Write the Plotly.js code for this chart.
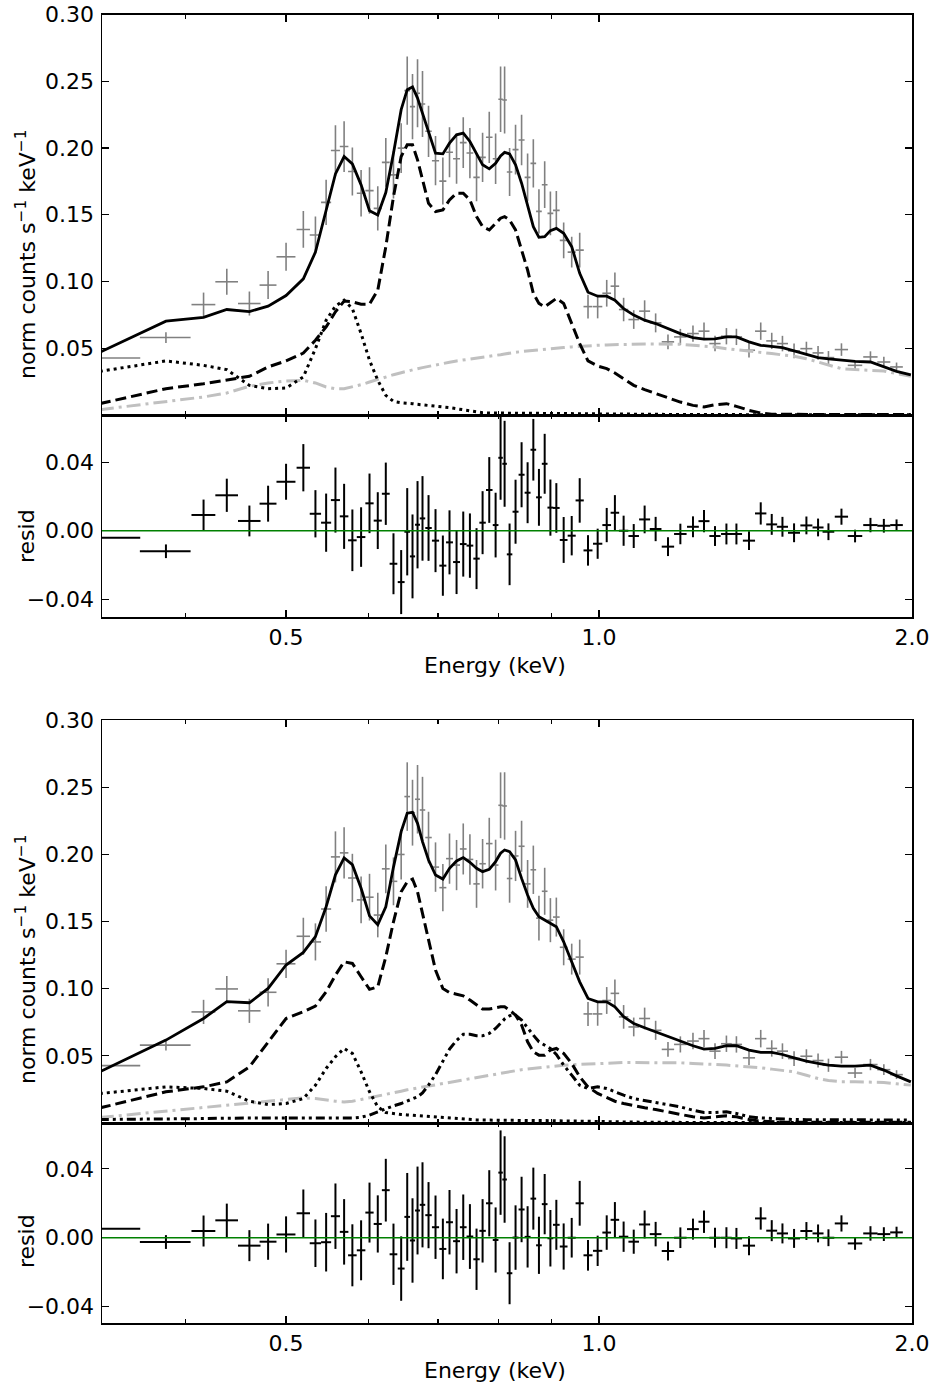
<!DOCTYPE html>
<html>
<head>
<meta charset="utf-8">
<script src="https://cdn.plot.ly/plotly-3.0.1.min.js"></script>
<style>html,body{margin:0;padding:0;background:#fff;}#chart{width:932px;height:1389px;}</style>
</head>
<body>
<div id="chart"></div>
<script>
// ---- Data ----
const energy = [
0.331, 0.3832, 0.4165, 0.4385, 0.461, 0.4805, 0.500, 0.5195, 0.5336, 0.5464,
0.5578, 0.5686, 0.5791, 0.5904, 0.6015, 0.6126, 0.6236, 0.6343, 0.6452, 0.6539,
0.6616, 0.6690, 0.6764, 0.6855, 0.6962, 0.7076, 0.7181, 0.7294, 0.7403, 0.7513,
0.7624, 0.7727, 0.7842, 0.7953, 0.8041, 0.8113, 0.8203, 0.8312, 0.8424, 0.8537,
0.8646, 0.8754, 0.8866, 0.8979, 0.9098, 0.9247, 0.9413, 0.9581, 0.9759, 0.9970,
1.0172, 1.0358, 1.0560, 1.0799, 1.1063, 1.1336, 1.1650, 1.1974, 1.2313, 1.2618,
1.2929, 1.3260, 1.3557, 1.3940, 1.4307, 1.4660, 1.5012, 1.5403, 1.5830, 1.6244,
1.6622, 1.7108, 1.7631, 1.8243, 1.8792, 1.9328, 1.995];

const energyErr = [
0.031, 0.0215, 0.011, 0.011, 0.0115, 0.009, 0.0105, 0.0077, 0.0067, 0.0061,
0.0056, 0.0054, 0.0055, 0.0056, 0.0055, 0.0055, 0.0054, 0.0054, 0.0049, 0.0041,
0.0038, 0.0037, 0.0041, 0.0049, 0.0055, 0.0055, 0.0055, 0.0056, 0.0055, 0.0056,
0.0054, 0.0055, 0.0057, 0.005, 0.004, 0.0041, 0.005, 0.0055, 0.0056, 0.0056,
0.0054, 0.0055, 0.0056, 0.0058, 0.0067, 0.0079, 0.0084, 0.0087, 0.0097, 0.0103,
0.0098, 0.0098, 0.011, 0.0126, 0.0135, 0.0147, 0.016, 0.0166, 0.0161, 0.0154,
0.0161, 0.0157, 0.017, 0.0188, 0.018, 0.0177, 0.0186, 0.0205, 0.0211, 0.0198,
0.0216, 0.0252, 0.0283, 0.029, 0.0271, 0.0271, 0.03];

const rate = [
0.0427, 0.058, 0.0827, 0.0998, 0.0835, 0.0973, 0.1185, 0.139, 0.1348, 0.1593,
0.1981, 0.2011, 0.1824, 0.1661, 0.1681, 0.1548, 0.1892, 0.1799, 0.1999, 0.243,
0.231, 0.241, 0.233, 0.2125, 0.1905, 0.1752, 0.1968, 0.192, 0.204, 0.1962,
0.178, 0.193, 0.208, 0.192, 0.2365, 0.236, 0.182, 0.1988, 0.206, 0.178,
0.1885, 0.1525, 0.1725, 0.151, 0.1533, 0.1308, 0.122, 0.1235, 0.0812, 0.0812,
0.0912, 0.0965, 0.079, 0.0715, 0.0778, 0.069, 0.0548, 0.0585, 0.061, 0.0628,
0.0535, 0.059, 0.0585, 0.0485, 0.0628, 0.0555, 0.0535, 0.048, 0.0497, 0.0465,
0.043, 0.049, 0.0372, 0.0435, 0.0397, 0.036, null];

const rateErr = [
0.002, 0.004, 0.009, 0.0097, 0.009, 0.0105, 0.0105, 0.0138, 0.0138, 0.017,
0.019, 0.019, 0.018, 0.0174, 0.0174, 0.0166, 0.0182, 0.0178, 0.0187, 0.0255,
0.0245, 0.0255, 0.0247, 0.0192, 0.0184, 0.0176, 0.0187, 0.0187, 0.019, 0.0188,
0.0178, 0.0184, 0.0192, 0.0189, 0.0245, 0.0251, 0.018, 0.0187, 0.019, 0.0178,
0.018, 0.0166, 0.0175, 0.0164, 0.0145, 0.0134, 0.0115, 0.013, 0.0089, 0.0088,
0.010, 0.0103, 0.0088, 0.007, 0.0081, 0.0071, 0.0055, 0.006, 0.0061, 0.0065,
0.0058, 0.0061, 0.0061, 0.0055, 0.0065, 0.0061, 0.0058, 0.0055, 0.0052, 0.0052,
0.0049, 0.0047, 0.0037, 0.0042, 0.004, 0.0033, null];

// Model A (upper figure)
const modelA_total = [
0.047, 0.0703, 0.0732, 0.079, 0.0775, 0.0815, 0.0895, 0.102, 0.122, 0.153,
0.1806, 0.1936, 0.1881, 0.1724, 0.153, 0.1498, 0.1666, 0.196, 0.2287, 0.2437,
0.2457, 0.2374, 0.2262, 0.2112, 0.1961, 0.1956, 0.2036, 0.2099, 0.2112, 0.2049,
0.1961, 0.1874, 0.1844, 0.1886, 0.1941, 0.1967, 0.1956, 0.1874, 0.1736, 0.1561,
0.1411, 0.1331, 0.1336, 0.1381, 0.1398, 0.1361, 0.1261, 0.1061, 0.092, 0.089,
0.089, 0.086, 0.0797, 0.0748, 0.071, 0.0685, 0.0648, 0.061, 0.058, 0.0568,
0.057, 0.0585, 0.0585, 0.0548, 0.0522, 0.0515, 0.0505, 0.048, 0.0452, 0.043,
0.042, 0.041, 0.0402, 0.0397, 0.036, 0.0327, 0.030];

const modelA_dashed = [
0.0085, 0.0197, 0.0234, 0.0264, 0.029, 0.036, 0.0405, 0.0464, 0.056, 0.066,
0.0773, 0.0853, 0.0848, 0.083, 0.083, 0.0935, 0.126, 0.1636, 0.1936, 0.2024,
0.2024, 0.1911, 0.1761, 0.1586, 0.1524, 0.1536, 0.1611, 0.1661, 0.1661, 0.1611,
0.1486, 0.1411, 0.1386, 0.1436, 0.1474, 0.1486, 0.1461, 0.1386, 0.1236, 0.1086,
0.0911, 0.0836, 0.081, 0.084, 0.0873, 0.0836, 0.069, 0.0535, 0.0405, 0.0367,
0.0347, 0.0315, 0.0272, 0.0222, 0.019, 0.016, 0.013, 0.0097, 0.0072, 0.006,
0.0077, 0.0085, 0.0065, 0.0035, 0.0015, 0.0006, 0.0005, 0.0005, 0.0004, 0.0004,
0.0004, 0.0004, 0.0004, 0.0004, 0.0003, 0.0003, 0.0003];

const modelA_dotted = [
0.0327, 0.0405, 0.0372, 0.034, 0.0222, 0.0197, 0.0202, 0.0285, 0.0497, 0.071,
0.0815, 0.086, 0.0797, 0.061, 0.041, 0.026, 0.0147, 0.0102, 0.0092, 0.009,
0.0085, 0.008, 0.0077, 0.0072, 0.0065, 0.006, 0.0055, 0.0047, 0.004, 0.003,
0.0022, 0.0017, 0.0015, 0.0015, 0.0014, 0.0014, 0.0014, 0.0013, 0.0013, 0.0013,
0.0012, 0.0012, 0.0012, 0.0012, 0.0011, 0.0011, 0.001, 0.001, 0.0009, 0.0008,
0.0007, 0.0006, 0.0005, 0.0005, 0.0004, 0.0004, 0.0004, 0.0003, 0.0003, 0.0003,
0.0003, 0.0003, 0.0003, 0.0002, 0.0002, 0.0002, 0.0002, 0.0002, 0.0002, 0.0002,
0.0002, 0.0002, 0.0002, 0.0002, 0.0002, 0.0002, 0.0002];

const modelA_bkg = [
0.004, 0.0097, 0.0135, 0.0165, 0.0215, 0.024, 0.0255, 0.026, 0.024, 0.021,
0.0197, 0.0197, 0.021, 0.0227, 0.0247, 0.0267, 0.0285, 0.0302, 0.0317, 0.033,
0.034, 0.0347, 0.0355, 0.0365, 0.0375, 0.0385, 0.0395, 0.0405, 0.0412, 0.0418,
0.0424, 0.0428, 0.0437, 0.0445, 0.0452, 0.0457, 0.0465, 0.047, 0.0475, 0.048,
0.0485, 0.0487, 0.0492, 0.0497, 0.05, 0.0505, 0.051, 0.0515, 0.052, 0.0522,
0.0525, 0.0527, 0.053, 0.053, 0.0532, 0.0532, 0.0532, 0.053, 0.0522, 0.0517,
0.051, 0.0497, 0.049, 0.048, 0.047, 0.046, 0.045, 0.044, 0.0422, 0.0397,
0.0372, 0.0347, 0.034, 0.0337, 0.033, 0.031, 0.029];

const residA = [
-0.0041, -0.012, 0.0092, 0.0207, 0.0057, 0.0158, 0.0286, 0.0368, 0.0099, 0.0047,
0.0179, 0.0084, -0.0056, -0.0037, 0.016, 0.0059, 0.0216, -0.0193, -0.030, -0.0006,
-0.015, 0.0035, 0.0072, 0.0016, -0.0058, -0.0204, -0.0068, -0.0183, -0.0078, -0.0087,
-0.0163, 0.0047, 0.0238, 0.0033, 0.0426, 0.0391, -0.0138, 0.0111, 0.0327, 0.0222,
0.0473, 0.0195, 0.0391, 0.0135, 0.0133, -0.0054, -0.0029, 0.0177, -0.0115, -0.0076,
0.0033, 0.0105, 0.0, -0.0031, 0.0066, 0.001, -0.0093, -0.0019, 0.0023, 0.0056,
-0.0031, -0.0019, -0.0019, -0.0058, 0.0101, 0.0037, 0.0023, -0.0012, 0.0031, 0.0019,
-0.0006, 0.0082, -0.0031, 0.0033, 0.0029, 0.0033, null];

// Model B (lower figure)
const modelB_total = [
0.0381, 0.0617, 0.0778, 0.0903, 0.0895, 0.1002, 0.1176, 0.127, 0.1387, 0.161,
0.1848, 0.1973, 0.1923, 0.1747, 0.1542, 0.1476, 0.161, 0.1905, 0.2169, 0.2306,
0.2313, 0.2231, 0.2095, 0.1958, 0.1846, 0.1816, 0.1896, 0.1951, 0.1976, 0.1941,
0.1896, 0.1871, 0.1888, 0.1946, 0.2008, 0.2032, 0.202, 0.1958, 0.1821, 0.1697,
0.1598, 0.1536, 0.1511, 0.1486, 0.1461, 0.1349, 0.12, 0.1051, 0.0927, 0.0902,
0.0902, 0.0865, 0.0791, 0.0741, 0.0709, 0.0679, 0.0642, 0.061, 0.0575, 0.055,
0.0555, 0.0575, 0.0575, 0.0543, 0.0525, 0.0525, 0.051, 0.0485, 0.046, 0.0443,
0.0431, 0.0423, 0.0423, 0.0431, 0.0394, 0.0351, 0.0306];

const modelB_dashed = [
0.0112, 0.0232, 0.0269, 0.0306, 0.0418, 0.0605, 0.0778, 0.0828, 0.087, 0.0977,
0.1101, 0.12, 0.1188, 0.1089, 0.0995, 0.1014, 0.1237, 0.1498, 0.1721, 0.1796,
0.1816, 0.1721, 0.156, 0.1361, 0.1138, 0.1001, 0.0971, 0.0959, 0.0947, 0.0915,
0.0877, 0.0848, 0.0848, 0.0858, 0.0865, 0.0865, 0.084, 0.0803, 0.0729, 0.0604,
0.053, 0.0505, 0.0505, 0.0543, 0.0555, 0.0518, 0.0443, 0.0344, 0.0269, 0.022,
0.0187, 0.0162, 0.0145, 0.0128, 0.0113, 0.01, 0.0083, 0.0066, 0.0046, 0.0038,
0.0043, 0.0053, 0.0046, 0.0026, 0.0013, 0.0008, 0.0006, 0.0006, 0.0006, 0.0006,
0.0006, 0.0006, 0.0006, 0.0006, 0.0006, 0.0006, 0.0006];

const modelB_dotted = [
0.0219, 0.0269, 0.0257, 0.0237, 0.0162, 0.0137, 0.0145, 0.0182, 0.0281, 0.0406,
0.0493, 0.0555, 0.0518, 0.0381, 0.0232, 0.012, 0.0078, 0.0068, 0.0063, 0.006,
0.0057, 0.0054, 0.0051, 0.0047, 0.0042, 0.0038, 0.0034, 0.003, 0.0027, 0.0025,
0.0023, 0.0022, 0.0021, 0.0021, 0.002, 0.002, 0.002, 0.0019, 0.0019, 0.0019,
0.0018, 0.0018, 0.0018, 0.0017, 0.0017, 0.0016, 0.0015, 0.0014, 0.0013, 0.0012,
0.001, 0.0009, 0.0008, 0.0007, 0.0006, 0.0005, 0.0005, 0.0004, 0.0004, 0.0004,
0.0003, 0.0003, 0.0003, 0.0003, 0.0003, 0.0003, 0.0003, 0.0003, 0.0003, 0.0003,
0.0003, 0.0003, 0.0003, 0.0003, 0.0003, 0.0003, 0.0003];

const modelB_dashdotdot = [
0.0026, 0.0028, 0.0033, 0.0036, 0.0038, 0.004, 0.004, 0.0038, 0.0038, 0.0038,
0.0035, 0.0038, 0.0038, 0.0043, 0.0058, 0.0083, 0.0108, 0.0128, 0.0145, 0.0163,
0.0175, 0.0195, 0.0224, 0.0282, 0.036, 0.046, 0.055, 0.0615, 0.066, 0.066,
0.065, 0.0649, 0.0667, 0.0704, 0.0741, 0.0774, 0.0798, 0.0803, 0.0766, 0.0704,
0.0654, 0.0605, 0.058, 0.0555, 0.051, 0.0431, 0.0356, 0.0281, 0.0257, 0.0269,
0.0257, 0.0232, 0.0207, 0.0182, 0.0165, 0.0152, 0.0137, 0.012, 0.0095, 0.0078,
0.0078, 0.0083, 0.0071, 0.0046, 0.0038, 0.0033, 0.0028, 0.0026, 0.0025, 0.0025,
0.0024, 0.0024, 0.0023, 0.0023, 0.0022, 0.0022, 0.0022];

const modelB_bkg = [
0.0041, 0.0088, 0.0113, 0.0133, 0.015, 0.0162, 0.0175, 0.0187, 0.0182, 0.017,
0.0162, 0.0157, 0.0162, 0.0175, 0.0187, 0.0199, 0.0212, 0.0224, 0.0237, 0.0247,
0.0254, 0.0262, 0.0269, 0.0276, 0.0284, 0.0294, 0.0304, 0.0314, 0.0321, 0.0329,
0.0338, 0.0348, 0.0358, 0.0367, 0.0374, 0.0379, 0.0385, 0.0391, 0.0397, 0.0402,
0.0407, 0.0412, 0.0417, 0.0421, 0.0425, 0.043, 0.0434, 0.0437, 0.044, 0.0443,
0.0446, 0.0448, 0.045, 0.045, 0.045, 0.045, 0.045, 0.0448, 0.0443, 0.0441,
0.0436, 0.0431, 0.0426, 0.0421, 0.0411, 0.0401, 0.0391, 0.0381, 0.0356, 0.0331,
0.0316, 0.0307, 0.0307, 0.0307, 0.0302, 0.0292, 0.0282];

const residB = [
0.0052, -0.0025, 0.0039, 0.0101, -0.0046, -0.0023, 0.0019, 0.0142, -0.0032, -0.0026,
0.0125, 0.0034, -0.0102, -0.0073, 0.0146, 0.008, 0.0276, -0.0096, -0.0179, 0.0121,
-0.0016, 0.0158, 0.0191, 0.0131, 0.0061, -0.0065, 0.009, -0.002, 0.0061, 0.0007,
-0.0125, 0.004, 0.02, -0.0013, 0.0378, 0.0338, -0.0206, 0.0001, 0.0164, 0.0005,
0.0227, -0.0044, 0.0195, -0.0003, 0.0075, -0.0051, 0.0, 0.02, -0.0102, -0.0076,
0.003, 0.0104, 0.0006, -0.0023, 0.0077, 0.0021, -0.0077, 0.0, 0.005, 0.0093,
0.0, 0.0, -0.0004, -0.0046, 0.0112, 0.0041, 0.0025, -0.0004, 0.0039, 0.0025,
0.0, 0.0083, -0.0033, 0.0025, 0.0021, 0.0031, null];

// Tick labels
const xTickVals = [0.5, 1.0, 2.0];
const xTickText = ['0.5', '1.0', '2.0'];
const xMinorVals = [0.4, 0.6, 0.7, 0.8, 0.9];
const yMainTickVals = [0.05, 0.10, 0.15, 0.20, 0.25, 0.30];
const yMainTickText = ['0.05', '0.10', '0.15', '0.20', '0.25', '0.30'];
const yResTickVals = [-0.04, 0.0, 0.04];
const yResTickText = ['\u22120.04', '0.00', '0.04'];

// ---- Layout helpers ----
const W = 932, H = 1389;
const fx = p => p / W;
const fy = p => 1 - p / H;
const FONT = 'DejaVu Sans, Liberation Sans, sans-serif';
const FS = 22;
const GRAY_DATA = '#808080';
const GRAY_BKG = '#c0c0c0';

function dataTrace(xa, ya, yv, color, thick) {
  return {
    type: 'scatter', mode: 'markers', x: energy, y: yv, xaxis: xa, yaxis: ya,
    marker: {size: 1, color: 'rgba(0,0,0,0)'}, hoverinfo: 'skip',
    error_x: {type: 'data', array: energyErr, symmetric: true, visible: true, width: 0, thickness: thick, color: color},
    error_y: {type: 'data', array: rateErr, symmetric: true, visible: true, width: 0, thickness: thick, color: color}
  };
}
function lineTrace(xa, ya, yv, color, dash, width) {
  return {type: 'scatter', mode: 'lines', x: energy, y: yv, xaxis: xa, yaxis: ya,
    line: {color: color, dash: dash, width: width}, hoverinfo: 'skip', connectgaps: false};
}

const DASH = '11px,5px';
const DOT = '3px,4px';
const DASHDOT = '14px,5px,3px,5px';
const DASHDOTDOT = '9px,4px,3px,4px,3px,4px';

const traces = [
  // upper main
  dataTrace('x', 'y', rate, GRAY_DATA, 1.6),
  lineTrace('x', 'y', modelA_bkg, GRAY_BKG, DASHDOT, 3),
  lineTrace('x', 'y', modelA_dotted, '#000', DOT, 3),
  lineTrace('x', 'y', modelA_dashed, '#000', DASH, 3),
  lineTrace('x', 'y', modelA_total, '#000', 'solid', 2.8),
  // upper residual
  dataTrace('x2', 'y2', residA, '#000', 2),
  // lower main
  dataTrace('x3', 'y3', rate, GRAY_DATA, 1.6),
  lineTrace('x3', 'y3', modelB_bkg, GRAY_BKG, DASHDOT, 3),
  lineTrace('x3', 'y3', modelB_dotted, '#000', DOT, 3),
  lineTrace('x3', 'y3', modelB_dashdotdot, '#000', DASHDOTDOT, 3),
  lineTrace('x3', 'y3', modelB_dashed, '#000', DASH, 3),
  lineTrace('x3', 'y3', modelB_total, '#000', 'solid', 2.8),
  // lower residual
  dataTrace('x4', 'y4', residB, '#000', 2)
];

const xDomain = [fx(102), fx(912)];
function xAxis(anchor, showLabels) {
  return {
    type: 'log', domain: xDomain, anchor: anchor,
    range: [Math.log10(0.3326), Math.log10(2.0) + 0.00002],
    tickmode: 'array', tickvals: xTickVals, ticktext: xTickText,
    showticklabels: showLabels, ticks: 'inside', ticklen: 7, tickwidth: 1.3, tickcolor: '#000',
    ticklabelstandoff: 0,
    showline: true, linecolor: '#000', linewidth: 1.5, mirror: 'allticks',
    showgrid: false, zeroline: false,
    tickfont: {family: FONT, size: FS, color: '#000'},
    minor: {tickmode: 'array', tickvals: xMinorVals, ticks: 'inside', ticklen: 4, tickwidth: 1.1, tickcolor: '#000', showgrid: false}
  };
}
function yAxis(anchor, dom, range, tv, tt) {
  return {
    domain: dom, anchor: anchor, range: range,
    tickmode: 'array', tickvals: tv, ticktext: tt,
    ticks: 'inside', ticklen: 7, tickwidth: 1.3, tickcolor: '#000',
    ticklabelstandoff: 2,
    showline: true, linecolor: '#000', linewidth: 1.5, mirror: 'allticks',
    showgrid: false, zeroline: false,
    tickfont: {family: FONT, size: FS, color: '#000'}
  };
}

function ann(text, xp, yp, angle) {
  return {text: text, xref: 'paper', yref: 'paper', x: fx(xp), y: fy(yp),
    xanchor: 'center', yanchor: 'middle', showarrow: false, textangle: angle,
    font: {family: FONT, size: FS, color: '#000'}};
}

const yLabel = 'norm counts s<sup>\u22121</sup> keV<sup>\u22121</sup>';

const layout = {
  width: W, height: H,
  margin: {l: 0, r: 0, t: 0, b: 0},
  paper_bgcolor: '#fff', plot_bgcolor: '#fff',
  showlegend: false,
  font: {family: FONT, size: FS, color: '#000'},
  xaxis: xAxis('y', false),
  xaxis2: xAxis('y2', true),
  xaxis3: xAxis('y3', false),
  xaxis4: xAxis('y4', true),
  yaxis: yAxis('x', [fy(415), fy(14.5)], [0, 0.30], yMainTickVals, yMainTickText),
  yaxis2: yAxis('x2', [fy(617), fy(415)], [-0.0504, 0.0676], yResTickVals, yResTickText),
  yaxis3: yAxis('x3', [fy(1123), fy(720)], [0, 0.30], yMainTickVals, yMainTickText),
  yaxis4: yAxis('x4', [fy(1323), fy(1123)], [-0.0495, 0.0666], yResTickVals, yResTickText),
  shapes: [
    {type: 'line', xref: 'x2 domain', yref: 'y2', x0: 0, x1: 1, y0: 0, y1: 0, line: {color: '#008000', width: 1.5}},
    {type: 'line', xref: 'x4 domain', yref: 'y4', x0: 0, x1: 1, y0: 0, y1: 0, line: {color: '#008000', width: 1.5}}
  ],
  annotations: [
    ann(yLabel, 26, 255, -90),
    ann('resid', 26, 536, -90),
    ann('Energy (keV)', 495, 665, 0),
    ann(yLabel, 26, 960, -90),
    ann('resid', 26, 1241, -90),
    ann('Energy (keV)', 495, 1370, 0)
  ]
};

Plotly.newPlot('chart', traces, layout, {staticPlot: true, displayModeBar: false});
</script>
</body>
</html>
